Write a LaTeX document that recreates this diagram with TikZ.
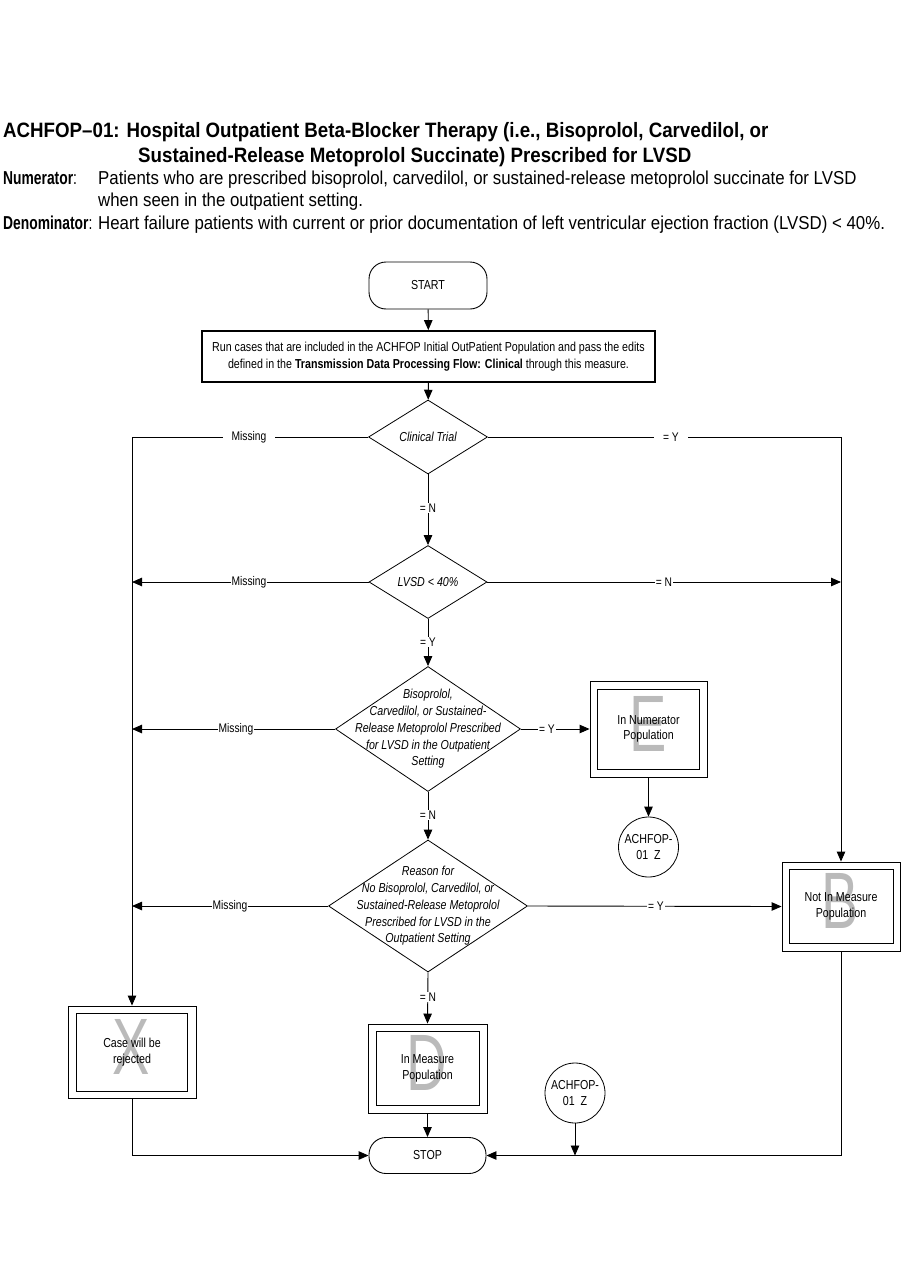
\documentclass[tikz,border=0pt]{standalone}
\usepackage{fontspec}
\setmainfont{Liberation Sans}[FakeStretch=0.82]
\newfontfamily\hdfont{Liberation Sans}[FakeStretch=0.9]
\newfontfamily\hdnarrow{Liberation Sans}[FakeStretch=0.74]
\newfontfamily\bigletter{Liberation Sans}[FakeStretch=0.7]
\usetikzlibrary{shapes.geometric,arrows.meta}
\definecolor{lettergray}{RGB}{186,186,186}
\begin{document}
\begin{tikzpicture}[x=1pt,y=-1pt,
  arr/.style={line width=0.9pt,-{Triangle[length=10pt,width=8.5pt]}},
  term/.style={draw,line width=0.9pt,rounded corners=17pt,inner sep=0pt,font=\fontsize{13}{15}\selectfont},
  dec/.style={draw,diamond,line width=0.8pt,inner sep=0pt},
  dtext/.style={align=center,inner sep=0pt,font=\fontsize{13}{16.7}\selectfont\itshape},
  lbl/.style={fill=white,inner xsep=1pt,inner ysep=1pt,font=\fontsize{12.5}{15}\selectfont},
  obox/.style={draw,line width=0.9pt,inner sep=0pt},
  ibox/.style={draw,line width=1pt,inner sep=0pt,align=center,font=\fontsize{13}{15.5}\selectfont},
  conn/.style={draw,circle,line width=0.8pt,inner sep=0pt,minimum size=60pt,align=center,font=\fontsize{13}{15.5}\selectfont},
  big/.style={text=lettergray,inner sep=0pt,font=\bigletter\fontsize{80}{80}\selectfont},
  hd/.style={anchor=base west,inner sep=0pt},
  htitle/.style={hd,font=\hdfont\bfseries\fontsize{20.8}{24}\selectfont},
  htext/.style={hd,font=\hdfont\fontsize{18.7}{22}\selectfont},
  hlab/.style={hd,font=\hdnarrow\fontsize{18.7}{22}\selectfont}
]
\useasboundingbox (0,0) rectangle (901,1287);

% header
\node[htitle] (t1) at (3,138) {ACHFOP–01: Hospital Outpatient Beta-Blocker Therapy (i.e., Bisoprolol, Carvedilol, or};
\node[htitle] (t2) at (138,162) {Sustained-Release Metoprolol Succinate) Prescribed for LVSD};
\node[hlab] (n1) at (3,184) {\textbf{Numerator}:};
\node[htext] (n2) at (98,184) {Patients who are prescribed bisoprolol, carvedilol, or sustained-release metoprolol succinate for LVSD};
\node[htext] (n3) at (98,206) {when seen in the outpatient setting.};
\node[hlab] (d1) at (3,229) {\textbf{Denominator}:};
\node[htext] (d2) at (98,229) {Heart failure patients with current or prior documentation of left ventricular ejection fraction (LVSD) < 40\%.};

% big letters (behind)
\node[big] (gE) at (648,724) {E};
\node[big] (gB) at (840,901) {B};
\node[big] (gX) at (131,1047) {X};
\node[big] (gD) at (427,1063) {D};

% terminals and process
\node[term,minimum width=118pt,minimum height=47pt] (start) at (428,285.5) {START};
\node[draw,line width=1.8pt,inner sep=0pt,minimum width=453pt,minimum height=51pt,align=center,font=\fontsize{13}{17}\selectfont] (run) at (428.5,356.5) {Run cases that are included in the ACHFOP Initial OutPatient Population and pass the edits\\defined in the \textbf{Transmission Data Processing Flow: Clinical} through this measure.};
\node[term,minimum width=117pt,minimum height=36pt] (stop) at (427.5,1155.5) {STOP};

% decisions
\node[dec,minimum width=119pt,minimum height=74pt] (clin) at (428,437) {};
\node[dtext] at (clin.center) {Clinical Trial};
\node[dec,minimum width=118pt,minimum height=73pt] (lvsd) at (428,582) {};
\node[dtext] at (lvsd.center) {LVSD < 40\%};
\node[dec,minimum width=185pt,minimum height=125pt] (biso) at (428,729) {};
\node[dtext] at (biso.center) {Bisoprolol,\\Carvedilol, or Sustained-\\Release Metoprolol Prescribed\\for LVSD in the Outpatient\\Setting};
\node[dec,minimum width=199pt,minimum height=132pt] (reas) at (428,906) {};
\node[dtext] at (reas.center) {Reason for\\No Bisoprolol, Carvedilol, or\\Sustained-Release Metoprolol\\Prescribed for LVSD in the\\Outpatient Setting};

% outcome boxes
\node[obox,minimum width=117pt,minimum height=96pt] (Eo) at (648.5,729) {};
\node[ibox,minimum width=102pt,minimum height=80pt] (Ei) at (648.5,729) {In Numerator\\Population};
\node[obox,minimum width=118pt,minimum height=89pt] (Bo) at (841,906.5) {};
\node[ibox,minimum width=104pt,minimum height=74pt] (Bi) at (841,906.5) {Not In Measure\\Population};
\node[obox,minimum width=128pt,minimum height=92pt] (Xo) at (132,1052) {};
\node[ibox,minimum width=111pt,minimum height=78pt] (Xi) at (132,1052) {Case will be\\rejected};
\node[obox,minimum width=119pt,minimum height=89pt] (Do) at (427.5,1068.5) {};
\node[ibox,minimum width=103pt,minimum height=74pt] (Di) at (427.5,1068.5) {In Measure\\Population};

% connectors (off-page)
\node[conn] (z1) at (648.5,847) {ACHFOP-\\01~~Z};
\node[conn] (z2) at (575,1093) {ACHFOP-\\01~~Z};

% helper coordinates
\coordinate (cl) at (132,437);
\coordinate (cr) at (841,437);
\coordinate (lvl) at (132,582);
\coordinate (lvr) at (841,582);
\coordinate (bl) at (132,729);
\coordinate (rl) at (132,906);
\coordinate (xb) at (132,1155.5);
\coordinate (bb) at (841,1155.5);
\coordinate (zb) at (575,1155.5);

% edges
\draw[arr] (start) -- (run);
\draw[arr] (run) -- (clin);
\draw[arr] (clin.west) -- (cl) -- (Xo.north);
\draw[arr] (clin.east) -- (cr) -- (Bo.north);
\draw[arr] (clin.south) -- (lvsd.north);
\draw[arr] (lvsd.west) -- (lvl);
\draw[arr] (lvsd.east) -- (lvr);
\draw[arr] (lvsd.south) -- (biso.north);
\draw[arr] (biso.west) -- (bl);
\draw[arr] (biso.east) -- (Eo.west);
\draw[arr] (Eo.south) -- (z1.north);
\draw[arr] (biso.south) -- (reas.north);
\draw[arr] (reas.west) -- (rl);
\draw[arr] (reas.east) -- (Bo.west);
\draw[arr] (reas.south) -- (Do.north);
\draw[arr] (Xo.south) -- (xb) -- (stop.west);
\draw[arr] (Do.south) -- (stop.north);
\draw[arr] (Bo.south) -- (bb) -- (stop.east);
\draw[arr] (z2.south) -- (zb);

% edge labels
\node[lbl,inner xsep=9pt] (m1) at (249,437) {Missing};
\node[lbl,inner xsep=9pt] (y1) at (671,437) {= Y};
\node[lbl] (n1l) at (428,508) {= N};
\node[lbl] (m2) at (249,582) {Missing};
\node[lbl] (n2l) at (664,582) {= N};
\node[lbl] (y2) at (428,642) {= Y};
\node[lbl] (m3) at (236,729) {Missing};
\node[lbl] (y3) at (547,729) {= Y};
\node[lbl] (n3l) at (428,815) {= N};
\node[lbl] (m4) at (230,906) {Missing};
\node[lbl] (y4) at (656,906) {= Y};
\node[lbl] (n4l) at (428,997) {= N};
\end{tikzpicture}
\end{document}
